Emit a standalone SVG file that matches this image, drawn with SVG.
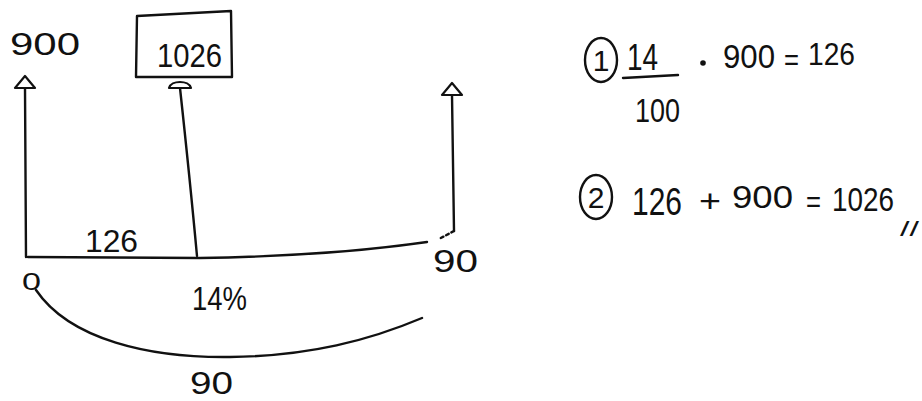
<svg xmlns="http://www.w3.org/2000/svg" width="922" height="401" viewBox="0 0 922 401">
<style>
text{font-family:"Liberation Sans","DejaVu Sans",sans-serif;fill:#111;}
.ln{fill:none;stroke:#111;stroke-width:2.4;stroke-linecap:round;stroke-linejoin:round;}
</style>
<defs>
<marker id="ah" viewBox="0 0 24 16" refX="12" refY="14" markerWidth="24" markerHeight="16" markerUnits="userSpaceOnUse" orient="0">
<path d="M2,14 L12,2 L22,14 Z" fill="#fff" stroke="#111" stroke-width="2.2" stroke-linejoin="round"/>
</marker>
<marker id="dome" viewBox="0 0 26 12" refX="13" refY="10" markerWidth="26" markerHeight="12" markerUnits="userSpaceOnUse" orient="0">
<path d="M2,10 C4,2 22,2 24,10 Z" fill="#fff" stroke="#111" stroke-width="2.2" stroke-linejoin="round"/>
</marker>
</defs>
<rect width="922" height="401" fill="#fff"/>
<g id="connectors">
<path class="ln" d="M26,257 L25,88" marker-end="url(#ah)"/>
<path class="ln" d="M197,256 Q190,180 180,88" marker-end="url(#dome)"/>
<path class="ln" d="M454,231 L452,95" marker-end="url(#ah)"/>
<path class="ln" d="M454,231 L439,239" stroke-dasharray="3 3"/>
<path class="ln" d="M28,257 L200,258 Q330,256 427,242"/>
<path class="ln" d="M36,290 C70,340 150,358 230,357 C310,356 370,340 422,318"/>
</g>
<g id="node-900">
<text x="10" y="55" font-size="32" textLength="70" lengthAdjust="spacingAndGlyphs">900</text>
</g>
<g id="node-1026">
<path class="ln" d="M137,16 L231,11 L232,77 L136,77 Z"/>
<text x="157" y="67" font-size="33" textLength="65" lengthAdjust="spacingAndGlyphs">1026</text>
</g>
<g id="node-126">
<text x="85" y="252" font-size="32" textLength="53" lengthAdjust="spacingAndGlyphs">126</text>
</g>
<g id="node-0">
<text x="22" y="290" font-size="24" textLength="19" lengthAdjust="spacingAndGlyphs">0</text>
</g>
<g id="node-14pct">
<text x="192" y="310" font-size="34" textLength="55" lengthAdjust="spacingAndGlyphs">14%</text>
</g>
<g id="node-90-right">
<text x="433" y="272" font-size="31" textLength="45" lengthAdjust="spacingAndGlyphs">90</text>
</g>
<g id="node-90-bottom">
<text x="190" y="394" font-size="31" textLength="43" lengthAdjust="spacingAndGlyphs">90</text>
</g>
<g id="eq1">
<ellipse class="ln" cx="601" cy="60" rx="16" ry="22"/>
<text x="601" y="71" font-size="30" text-anchor="middle">1</text>
<text x="627" y="70" font-size="36" textLength="31" lengthAdjust="spacingAndGlyphs">14</text>
<path class="ln" d="M623,78 L678,75"/>
<text x="635" y="122" font-size="34" textLength="45" lengthAdjust="spacingAndGlyphs">100</text>
<circle cx="703" cy="63" r="2.8" fill="#111"/>
<text x="723" y="68" font-size="34" textLength="52" lengthAdjust="spacingAndGlyphs">900</text>
<text x="784" y="70" font-size="30" textLength="15" lengthAdjust="spacingAndGlyphs">=</text>
<text x="808" y="65" font-size="32" textLength="47" lengthAdjust="spacingAndGlyphs">126</text>
</g>
<g id="eq2">
<ellipse class="ln" cx="596" cy="197" rx="16" ry="22"/>
<text x="596" y="208" font-size="30" text-anchor="middle">2</text>
<text x="632" y="215" font-size="38" textLength="50" lengthAdjust="spacingAndGlyphs">126</text>
<text x="699" y="212" font-size="32" textLength="22" lengthAdjust="spacingAndGlyphs">+</text>
<text x="732" y="208" font-size="32" textLength="61" lengthAdjust="spacingAndGlyphs">900</text>
<text x="806" y="212" font-size="30" textLength="15" lengthAdjust="spacingAndGlyphs">=</text>
<text x="832" y="211" font-size="34" textLength="62" lengthAdjust="spacingAndGlyphs">1026</text>
<text x="900" y="236" font-size="20" textLength="19" lengthAdjust="spacingAndGlyphs">//</text>
</g>
</svg>
